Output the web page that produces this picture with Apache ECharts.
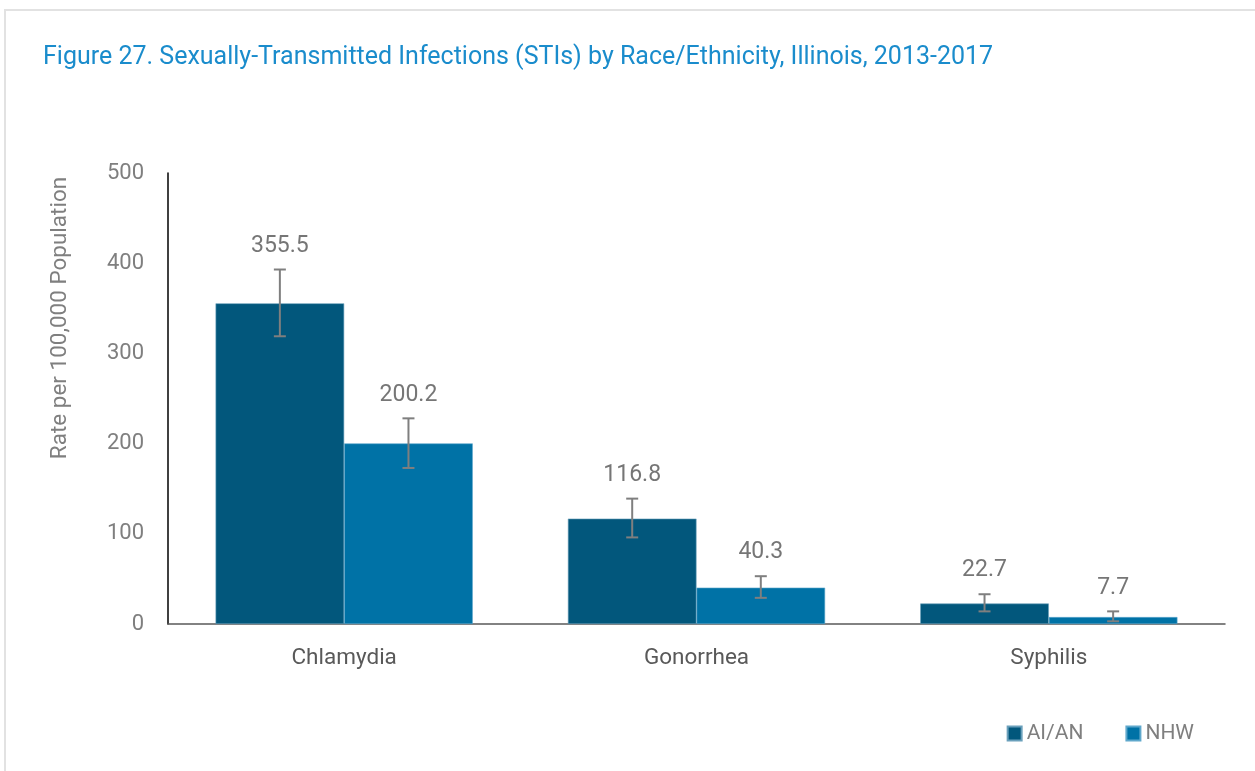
<!DOCTYPE html>
<html>
<head>
<meta charset="utf-8">
<script src="https://cdn.jsdelivr.net/npm/echarts@6/dist/echarts.min.js"></script>
<style>
  html, body { margin: 0; padding: 0; background: #fff; }
  #chart { width: 1255px; height: 771px; }
</style>
</head>
<body>
<div id="chart"></div>
<script>
var categories = ['Chlamydia', 'Gonorrhea', 'Syphilis'];
var seriesNames = ['AI/AN', 'NHW'];
var aianRates = [355.5, 116.8, 22.7];
var nhwRates = [200.2, 40.3, 7.7];
// confidence intervals
var aianLow = [319, 96, 14];
var aianHigh = [393, 139, 33];
var nhwLow = [173, 29, 3];
var nhwHigh = [228, 53, 14];
var yTicks = [0, 100, 200, 300, 400, 500];

var FONT = '"Roboto", sans-serif';
var colors = ['#02577c', '#0072a6'];
var gapPct = 27;

function errorSeries(idx, rates, low, high) {
    var data = categories.map(function (c, i) {
        return [i, low[i], high[i], rates[i]];
    });
    return {
        type: 'custom',
        silent: true,
        z: 5,
        data: data,
        renderItem: function (params, api) {
            var band = api.size([1, 0])[0];
            var barW = band * (1 - gapPct / 100) / 2;
            var center = api.coord([api.value(0), 0])[0];
            var x = center - band * (1 - gapPct / 100) / 2 + barW * (idx + 0.5);
            var yLo = api.coord([api.value(0), api.value(1)])[1];
            var yHi = api.coord([api.value(0), api.value(2)])[1];
            var cap = 6;
            var st = { stroke: '#7f7f7f', lineWidth: 2 };
            return {
                type: 'group',
                children: [
                    { type: 'line', shape: { x1: x, y1: yLo, x2: x, y2: yHi }, style: st },
                    { type: 'line', shape: { x1: x - cap, y1: yLo, x2: x + cap, y2: yLo }, style: st },
                    { type: 'line', shape: { x1: x - cap, y1: yHi, x2: x + cap, y2: yHi }, style: st },
                    {
                        type: 'text',
                        x: x, y: yHi - 12,
                        style: {
                            text: String(api.value(3)),
                            fill: '#767676',
                            font: '23px ' + FONT,
                            textAlign: 'center',
                            textVerticalAlign: 'bottom'
                        }
                    }
                ]
            };
        }
    };
}

var option = {
    animation: false,
    backgroundColor: '#fff',
    title: {
        text: 'Figure 27. Sexually-Transmitted Infections (STIs) by Race/Ethnicity, Illinois, 2013-2017',
        left: 38,
        top: 40,
        textStyle: { color: '#1a8ccc', fontSize: 25, fontWeight: 'normal', fontFamily: FONT }
    },
    graphic: [
        {
            type: 'rect',
            shape: { x: 5, y: 10, width: 1270, height: 790 },
            style: { fill: 'none', stroke: '#e2e2e2', lineWidth: 2 },
            silent: true
        },
        {
            type: 'text',
            x: 60, y: 318,
            rotation: Math.PI / 2,
            style: {
                text: 'Rate per 100,000 Population',
                fill: '#7f7f7f',
                font: '22.5px ' + FONT,
                textAlign: 'center',
                textVerticalAlign: 'middle'
            }
        }
    ],
    legend: {
        right: 56,
        top: 718,
        itemWidth: 14,
        itemHeight: 14,
        itemGap: 42,
        icon: 'rect',
        textStyle: { color: '#7f7f7f', fontSize: 21, fontFamily: FONT },
        data: seriesNames
    },
    grid: { left: 168, right: 30, top: 173, bottom: 147 },
    xAxis: {
        type: 'category',
        data: categories,
        axisLine: { lineStyle: { color: '#595959', width: 1.5 } },
        axisTick: { show: false },
        axisLabel: { color: '#595959', fontSize: 22.5, fontFamily: FONT, margin: 23 }
    },
    yAxis: {
        type: 'value',
        min: yTicks[0],
        max: yTicks[yTicks.length - 1],
        interval: 100,
        axisLine: { show: true, lineStyle: { color: '#000', width: 1.5 } },
        axisTick: { show: false },
        splitLine: { show: false },
        axisLabel: { color: '#7f7f7f', fontSize: 22, fontFamily: FONT, margin: 24 }
    },
    series: [
        {
            name: seriesNames[0],
            type: 'bar',
            data: aianRates,
            barGap: '0%',
            barCategoryGap: gapPct + '%',
            itemStyle: { color: colors[0], borderColor: '#6aa0bb', borderWidth: 0.6 }
        },
        {
            name: seriesNames[1],
            type: 'bar',
            data: nhwRates,
            itemStyle: { color: colors[1], borderColor: '#5fa8cc', borderWidth: 0.6 }
        },
        errorSeries(0, aianRates, aianLow, aianHigh),
        errorSeries(1, nhwRates, nhwLow, nhwHigh)
    ]
};

var myChart = echarts.init(document.getElementById('chart'));
myChart.setOption(option);
</script>
</body>
</html>
